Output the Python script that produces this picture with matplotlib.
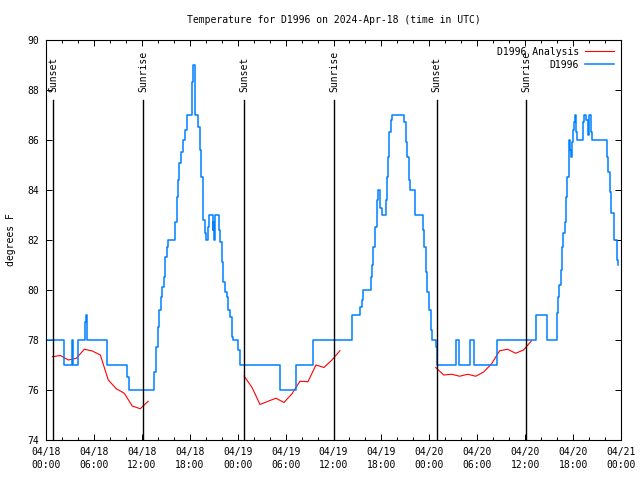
import matplotlib
matplotlib.use("Agg")
import matplotlib.pyplot as plt
from matplotlib.ticker import MultipleLocator

# ---- data (time in hours since 2024-04-18 00:00 UTC) ----
obs_hours = [0.0, 2.2, 3.25, 3.4, 3.95, 4.9, 5.0, 5.15, 7.65, 10.2, 10.45,
             13.52, 13.73, 13.98, 14.19, 14.36, 14.53, 14.78, 14.94, 15.11, 15.32,
             16.15, 16.36, 16.57, 16.7, 16.9, 17.11, 17.36, 17.61, 18.32, 18.45,
             18.6, 18.7, 19.0, 19.25, 19.45, 19.6, 19.72, 19.85, 20.0, 20.29,
             20.45, 20.87, 20.95, 21.04, 21.2, 21.6, 21.79, 22.0, 22.2, 22.41,
             22.62, 22.83, 23.04, 23.25, 23.46, 24.0, 24.29, 29.3, 31.3, 33.45,
             38.27, 39.32, 39.53, 39.74, 40.66, 40.78, 40.99, 41.2, 41.41, 41.53,
             41.82, 42.03, 42.54, 42.66, 42.87, 42.99, 43.16, 43.28, 44.83, 45.04,
             45.25, 45.41, 45.58, 46.21, 47.17, 47.33, 47.54, 47.75, 48.0, 48.17,
             48.29, 48.84, 48.92, 51.3, 51.72, 53.09, 53.64, 56.43, 61.3, 62.77,
             63.95, 64.16, 64.28, 64.45, 64.61, 64.78, 64.95, 65.11, 65.28, 65.45,
             65.53, 65.62, 65.7, 65.83, 65.95, 66.08, 66.24, 66.37, 66.49, 67.2,
             67.33, 67.66, 67.83, 67.91, 68.03, 68.2, 68.33, 70.21, 70.41, 70.62,
             70.79, 71.16, 71.5, 71.58, 71.65]
obs_temps = [78.0, 77.0, 78.0, 77.0, 78.0, 78.7, 79.0, 78.0, 77.0, 76.5, 76.0,
             76.7, 77.7, 78.5, 79.2, 79.7, 80.1, 80.5, 81.3, 81.7, 82.0,
             82.7, 83.7, 84.4, 85.1, 85.5, 86.0, 86.4, 87.0, 88.3, 89.0,
             88.5, 87.0, 86.5, 85.6, 84.5, 83.5, 82.8, 82.3, 82.0, 82.5,
             83.0, 82.4, 82.7, 82.0, 83.0, 82.4, 81.9, 81.1, 80.3, 79.9,
             79.7, 79.2, 78.9, 78.1, 78.0, 77.6, 77.0, 76.0, 77.0, 78.0,
             79.0, 79.33, 79.6, 80.0, 80.5, 81.0, 81.7, 82.5, 83.6, 84.0,
             83.3, 83.0, 83.6, 84.5, 85.3, 86.3, 86.8, 87.0, 86.7, 85.9,
             85.3, 84.4, 84.0, 83.0, 82.4, 81.7, 80.7, 79.9, 79.2, 78.4,
             78.0, 77.7, 77.0, 78.0, 77.0, 78.0, 77.0, 78.0, 79.0, 78.0,
             79.07, 79.7, 80.2, 80.8, 81.7, 82.3, 82.7, 83.7, 84.5, 85.6,
             86.0, 85.6, 85.3, 85.9, 86.4, 86.7, 87.0, 86.3, 86.0, 86.7,
             87.0, 86.8, 86.5, 86.2, 87.0, 86.3, 86.0, 85.3, 84.7, 83.9,
             83.1, 82.0, 81.2, 81.0, 81.0]

ana1_hours = [0.8, 1.8, 2.8, 3.8, 4.8, 5.8, 6.8, 7.8, 8.8, 9.8, 10.8, 11.8, 12.8]
ana1_temps = [77.33, 77.38, 77.2, 77.27, 77.63, 77.56, 77.4, 76.4, 76.05, 75.87, 75.36, 75.25, 75.55]
ana2_hours = [24.8, 25.8, 26.8, 27.8, 28.8, 29.8, 30.8, 31.8, 32.8, 33.8, 34.8, 35.8, 36.8]
ana2_temps = [76.56, 76.1, 75.42, 75.55, 75.67, 75.5, 75.85, 76.35, 76.33, 77.0, 76.9, 77.2, 77.57]
ana3_hours = [48.8, 49.8, 50.8, 51.8, 52.8, 53.8, 54.8, 55.8, 56.8, 57.8, 58.8, 59.8, 60.8]
ana3_temps = [76.9, 76.6, 76.63, 76.55, 76.63, 76.55, 76.72, 77.05, 77.57, 77.63, 77.47, 77.6, 77.97]

event_hours = [0.92, 12.19, 24.83, 36.1, 48.9, 60.1]
event_labels = ["Sunset", "Sunrise", "Sunset", "Sunrise", "Sunset", "Sunrise"]

xtick_hours = [0, 6, 12, 18, 24, 30, 36, 42, 48, 54, 60, 66, 72]
xtick_labels = ["04/18\n00:00", "04/18\n06:00", "04/18\n12:00", "04/18\n18:00",
                "04/19\n00:00", "04/19\n06:00", "04/19\n12:00", "04/19\n18:00",
                "04/20\n00:00", "04/20\n06:00", "04/20\n12:00", "04/20\n18:00",
                "04/21\n00:00"]
yticks = [74, 76, 78, 80, 82, 84, 86, 88, 90]

plt.rcParams['font.family'] = ['DejaVu Sans Mono']
FS = 7

fig = plt.figure(figsize=(6.4, 4.8), dpi=100)
ax = fig.add_axes([46/640, 40/480, 575/640, 400/480])

red = '#ff0000'
blue = '#0080ff'

ax.plot(ana1_hours, ana1_temps, color=red, lw=0.8, label="D1996 Analysis")
ax.plot(ana2_hours, ana2_temps, color=red, lw=0.8)
ax.plot(ana3_hours, ana3_temps, color=red, lw=0.8)
ax.plot(obs_hours, obs_temps, color=blue, lw=1.1, drawstyle='steps-post', label="D1996")

for h, lab in zip(event_hours, event_labels):
    ax.plot([h, h], [74, 87.6], color='black', lw=1.0)
    ax.text(h, 87.9, lab, rotation=90, ha='center', va='bottom', fontsize=FS)

ax.set_xlim(0, 72)
ax.set_ylim(74, 90)
ax.set_xticks(xtick_hours)
ax.set_xticklabels(xtick_labels, fontsize=FS, linespacing=1.35)
ax.xaxis.set_minor_locator(MultipleLocator(2))
ax.set_yticks(yticks)
ax.set_yticklabels([str(v) for v in yticks], fontsize=FS)
ax.tick_params(axis='both', which='both', direction='in', top=True, right=True,
               width=0.7)
ax.tick_params(axis='both', which='major', length=4.5, pad=5)
ax.tick_params(axis='x', which='minor', length=2.5)
for s in ax.spines.values():
    s.set_linewidth(0.8)

ax.set_ylabel("degrees F", fontsize=FS)
ax.yaxis.set_label_coords(-0.052, 0.5)
ax.set_title("Temperature for D1996 on 2024-Apr-18 (time in UTC)", fontsize=FS, pad=12)

leg = ax.legend(loc='upper right', fontsize=FS, frameon=False, markerfirst=False,
                handlelength=3.0, handletextpad=0.6, labelspacing=0.3,
                borderaxespad=0.5, borderpad=0.2)

fig.savefig("out.png", dpi=100)
